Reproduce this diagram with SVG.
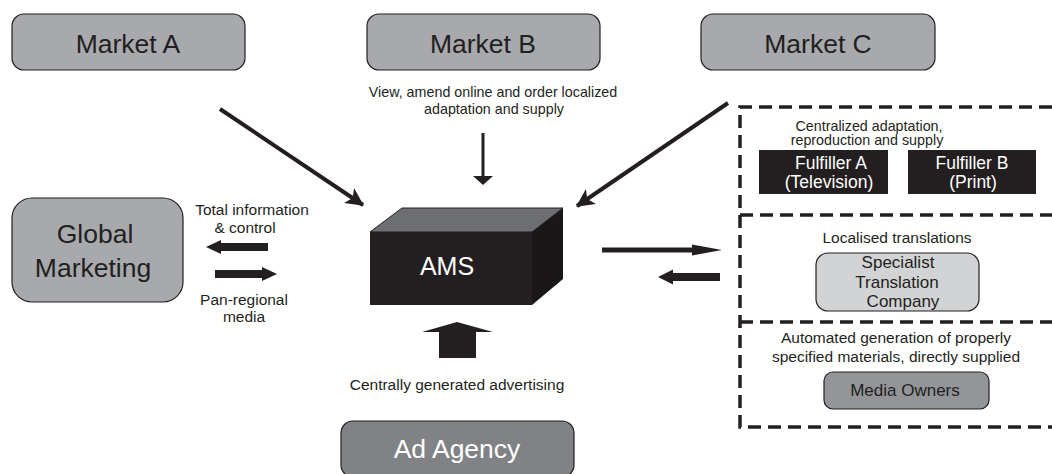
<svg xmlns="http://www.w3.org/2000/svg" width="1052" height="474" viewBox="0 0 1052 474">
<style>
.t{font-family:"Liberation Sans",Arial,sans-serif;fill:#231f20;text-anchor:middle}
.big{font-size:26.5px}
.lbl{font-size:15.5px}
.sm{font-size:14.3px}
.w{fill:#ffffff}
.mk{fill:#a7a9ac;stroke:#231f20;stroke-width:1.2}
.dash{fill:none;stroke:#231f20;stroke-width:3.5;stroke-dasharray:13 7}
.ln{stroke:#231f20;fill:none}
.hd{fill:#231f20}
</style>
<defs>
<marker id="ah" markerUnits="userSpaceOnUse" markerWidth="18" markerHeight="18" refX="15" refY="8" orient="auto" viewBox="0 0 16 16">
<path d="M0,0 L16,8 L0,16 L4,8 Z" fill="#231f20"/>
</marker>
</defs>

<g id="market-a"><rect class="mk" x="12" y="14" width="233" height="56" rx="12"/><text class="t big" x="128" y="53">Market A</text></g>
<g id="market-b"><rect class="mk" x="367" y="14" width="233" height="56" rx="12"/><text class="t big" x="483" y="53">Market B</text></g>
<g id="market-c"><rect class="mk" x="701" y="14" width="234" height="56" rx="12"/><text class="t big" x="818" y="53">Market C</text></g>
<g id="global-marketing"><rect class="mk" x="12" y="198" width="171" height="104" rx="20"/><text class="t big" x="95" y="243">Global</text><text class="t big" x="93" y="277">Marketing</text></g>

<g id="ams">
<polygon points="370,232 402,208 563,208 532,232" fill="#6d6e71" stroke="#231f20" stroke-width="1"/>
<polygon points="532,232 563,208 563,279 532,305" fill="#1a1718"/>
<rect x="370" y="232" width="162" height="73" fill="#231f20"/>
<text class="t w" x="447" y="275" font-size="25">AMS</text>
</g>

<g id="ad-agency"><rect x="341" y="421" width="233" height="56" rx="12" fill="#808285" stroke="#231f20" stroke-width="1.2"/><text class="t big w" x="457" y="458">Ad Agency</text></g>

<g id="dashed-frame">
<path class="dash" d="M1052,107 H740 V427 H1052 M740,215 H1052 M740,322 H1052"/>
</g>

<g id="fulfillers">
<text class="t sm" x="869" y="131">Centralized adaptation,</text>
<text class="t sm" x="867" y="145">reproduction and supply</text>
<g id="fulfiller-a"><rect x="759" y="150" width="129" height="44" fill="#231f20"/><text class="t w" x="831" y="169" font-size="17.5">Fulfiller A</text><text class="t w" x="829" y="188" font-size="17.5">(Television)</text></g>
<g id="fulfiller-b"><rect x="908" y="150" width="128" height="44" fill="#231f20"/><text class="t w" x="972" y="169" font-size="17.5">Fulfiller B</text><text class="t w" x="973" y="188" font-size="17.5">(Print)</text></g>
</g>

<g id="translation">
<text class="t lbl" x="897" y="243">Localised translations</text>
<rect x="816" y="253" width="163" height="58" rx="12" fill="#d1d3d4" stroke="#231f20" stroke-width="1.2"/>
<text class="t" x="898" y="268" font-size="17">Specialist</text>
<text class="t" x="897" y="288" font-size="17">Translation</text>
<text class="t" x="903" y="307" font-size="17">Company</text>
</g>

<g id="media-owners">
<text class="t lbl" x="896" y="343">Automated generation of properly</text>
<text class="t lbl" x="896" y="362">specified materials, directly supplied</text>
<rect x="824" y="372" width="165" height="37" rx="9" fill="#939598" stroke="#231f20" stroke-width="1.2"/>
<text class="t" x="905" y="396" font-size="17">Media Owners</text>
</g>

<g id="labels">
<text class="t sm" x="493" y="97">View, amend online and order localized</text>
<text class="t sm" x="494" y="114">adaptation and supply</text>
<text class="t lbl" x="252" y="215">Total information</text>
<text class="t lbl" x="245" y="233">&amp; control</text>
<text class="t lbl" x="244" y="305">Pan-regional</text>
<text class="t lbl" x="244" y="322">media</text>
<text class="t lbl" x="457" y="390">Centrally generated advertising</text>
</g>

<g id="connectors">
<line class="ln" x1="220" y1="109" x2="363" y2="205" stroke-width="4" marker-end="url(#ah)"/>
<line class="ln" x1="728" y1="103" x2="577" y2="206" stroke-width="4" marker-end="url(#ah)"/>
<line class="ln" x1="483" y1="133" x2="483" y2="178" stroke-width="3"/>
<polygon class="hd" points="473,176 493,176 483,185"/>
<polygon class="hd" points="268,243 221,243 221,240 206,247 221,254 221,251 268,251"/>
<polygon class="hd" points="215,270 262,270 262,267 277,274 262,281 262,278 215,278"/>
<polygon class="hd" points="602,247.5 692,247.5 692,244.5 722,250 692,255.5 692,252.5 602,252.5"/>
<polygon class="hd" points="720,273 673,273 673,269.5 658,277 673,284.5 673,281 720,281"/>
<polygon class="hd" points="439,358 476,358 476,332 493,332 457,322 422,332 439,332"/>
</g>
</svg>
